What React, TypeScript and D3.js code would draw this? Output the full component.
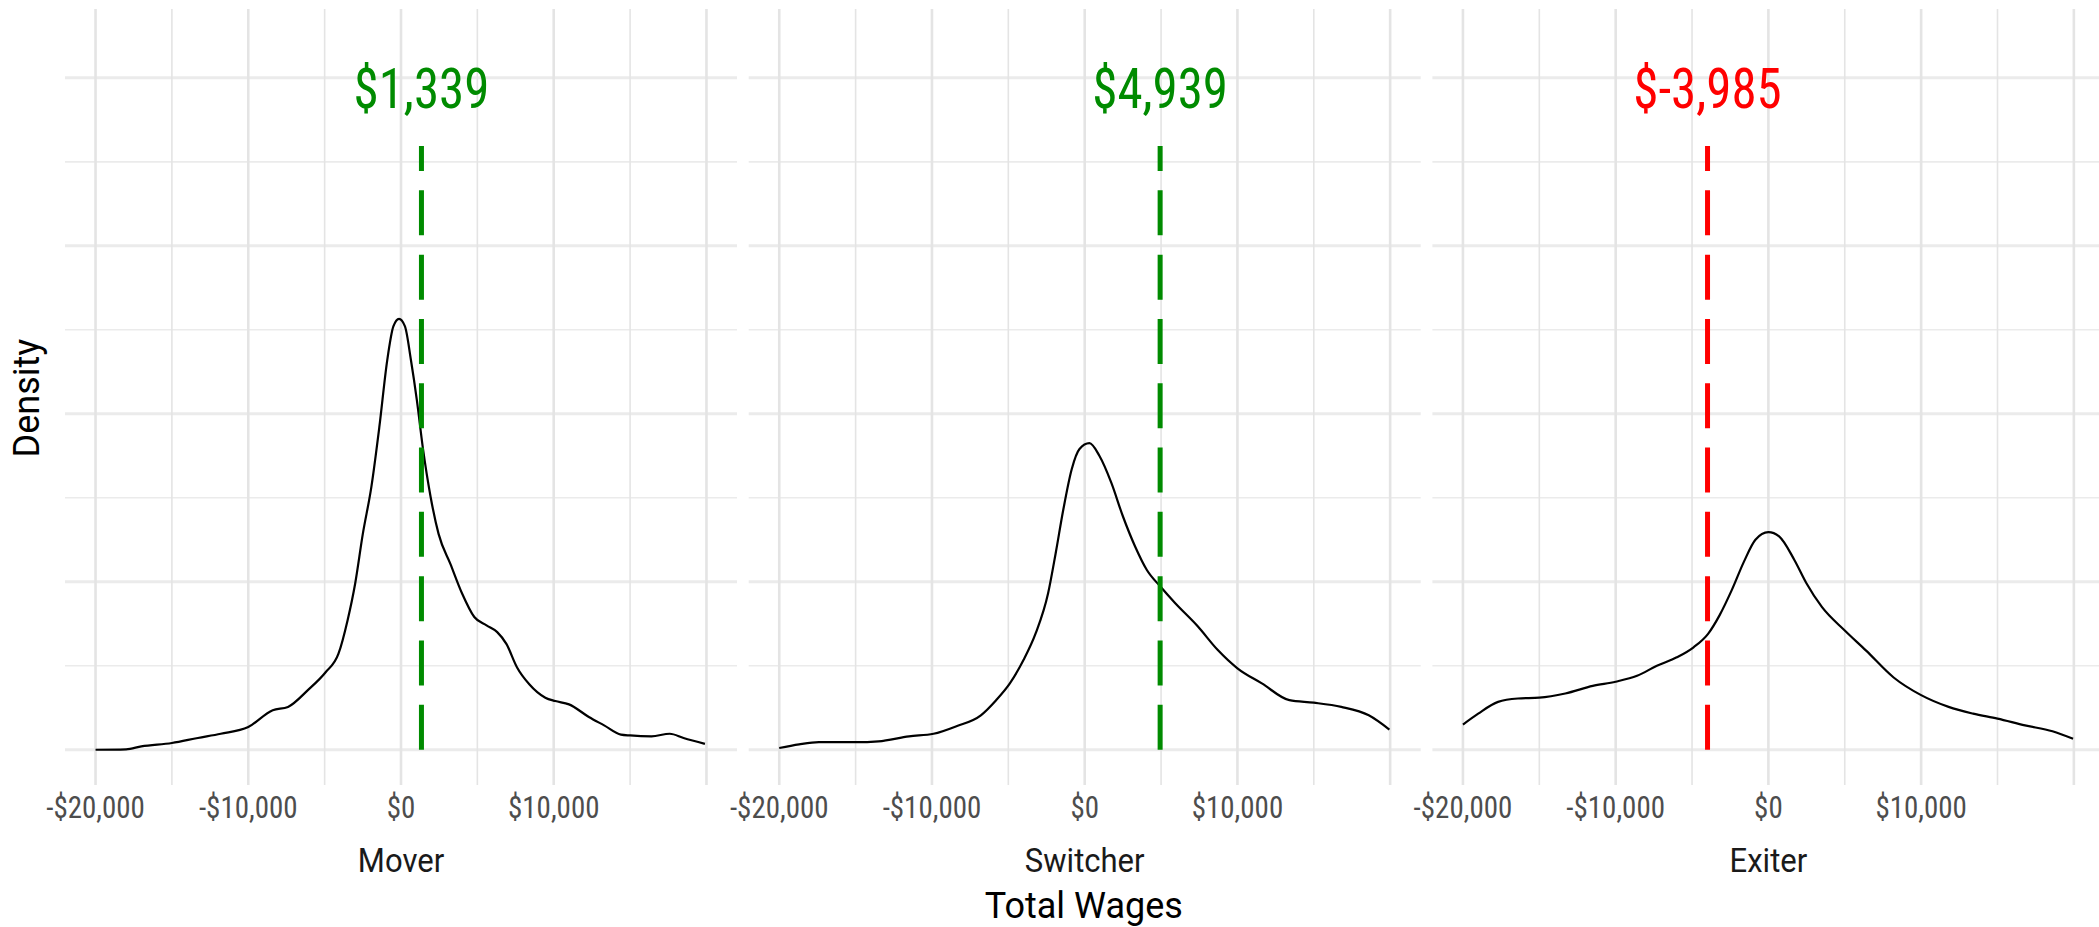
import React from "react";
import * as d3 from "d3";

// facets and their mean change in total wages
const panels = ["Mover", "Switcher", "Exiter"];
const meanWages = [1339, 4939, -3985];
const meanColors = ["#008B00", "#008B00", "#FF0000"];

// axis breaks
const xTicks = [-20000, -10000, 0, 10000];
const xMajor = [-20000, -10000, 0, 10000, 20000];
const xMinor = [-15000, -5000, 5000, 15000];
const yMajor = [0, 2, 4, 6, 8];
const yMinor = [1, 3, 5, 7];

// density curves (y in grid units)
const moverWage = [-20000, -18000, -17000, -15000, -13300, -11800, -10000, -8400, -7400, -6100, -4950, -4100, -3500, -3000, -2500, -1940, -1420, -900, -500, -130, 260, 650, 1040, 1420, 1940, 2460, 3240, 4000, 4800, 5600, 6300, 6900, 7600, 8400, 9450, 10100, 11000, 12300, 13300, 14400, 15000, 16400, 17600, 18500, 19900];
const moverDens = [0, 0.005, 0.04, 0.08, 0.14, 0.19, 0.27, 0.47, 0.51, 0.71, 0.92, 1.14, 1.54, 1.98, 2.57, 3.13, 3.84, 4.64, 5.04, 5.13, 5.04, 4.64, 4.16, 3.61, 3.01, 2.57, 2.21, 1.86, 1.58, 1.48, 1.4, 1.26, 0.98, 0.78, 0.62, 0.58, 0.54, 0.39, 0.29, 0.18, 0.17, 0.16, 0.19, 0.14, 0.07];

const switcherWage = [-20000, -18700, -17400, -15000, -13500, -11500, -9900, -8400, -6800, -5800, -4900, -4000, -3200, -2400, -1900, -1400, -850, -340, 310, 960, 1740, 2500, 3300, 4070, 4970, 5900, 7400, 8700, 10000, 11600, 13400, 15000, 16800, 18600, 19950];
const switcherDens = [0.02, 0.064, 0.09, 0.09, 0.1, 0.16, 0.19, 0.28, 0.41, 0.59, 0.79, 1.07, 1.39, 1.86, 2.34, 2.86, 3.34, 3.58, 3.65, 3.5, 3.18, 2.78, 2.42, 2.14, 1.94, 1.75, 1.47, 1.19, 0.97, 0.79, 0.59, 0.56, 0.51, 0.41, 0.24];

const exiterWage = [-20000, -19000, -17700, -16400, -15000, -13300, -11500, -10000, -8600, -7300, -6000, -4900, -3950, -3200, -2400, -1600, -850, 0, 700, 1700, 2500, 3500, 5000, 6400, 8200, 10000, 11800, 13400, 15000, 16800, 18600, 19950];
const exiterDens = [0.3, 0.43, 0.57, 0.61, 0.62, 0.67, 0.76, 0.81, 0.88, 1.0, 1.1, 1.22, 1.38, 1.6, 1.9, 2.24, 2.5, 2.59, 2.54, 2.26, 1.98, 1.7, 1.42, 1.18, 0.86, 0.65, 0.51, 0.43, 0.37, 0.29, 0.22, 0.13];

const curves = [
  { wage: moverWage, dens: moverDens },
  { wage: switcherWage, dens: switcherDens },
  { wage: exiterWage, dens: exiterDens },
];

const vlineTop = 7.19;
const labelY = 7.64;

const W = 2099;
const H = 927;
const panelLeft = 65;
const panelW = 672;
const panelGap = 11.7;
const panelTop = 9;
const panelBottom = 785;
const COND = "'Roboto Condensed', Roboto, sans-serif";
const REG = "Roboto, sans-serif";

const locale = d3.formatLocale({
  decimal: ".",
  thousands: ",",
  grouping: [3],
  currency: ["$", ""],
  minus: "-",
});
const comma = locale.format(",");
const tickFmt = (v: number) => (v < 0 ? `-$${comma(-v)}` : `$${comma(v)}`);
const meanFmt = (v: number) => `$${comma(v)}`;

const Label = ({ x, y, size, fill, rotate, sx = 1, family = REG, children }: any) => (
  <text
    transform={`translate(${x},${y})${rotate ? ` rotate(${rotate})` : ""} scale(${sx},1)`}
    fontSize={size}
    fill={fill}
    textAnchor="middle"
    fontFamily={family}
  >
    {children}
  </text>
);

const App = () => {
  const y = d3.scaleLinear().domain([-0.42, 8.82]).range([panelBottom, panelTop]);

  return (
    <svg
      width={W}
      height={H}
      style={{ position: "absolute", left: 0, top: 0, display: "block", background: "#fff" }}
    >
      {panels.map((name, i) => {
        const x0 = panelLeft + i * (panelW + panelGap);
        const x = d3.scaleLinear().domain([-22000, 22000]).range([x0, x0 + panelW]);
        const line = d3
          .line<number>()
          .x((_, j) => x(curves[i].wage[j]))
          .y((d) => y(d))
          .curve(d3.curveMonotoneX);

        return (
          <g key={name}>
            {/* grid */}
            {yMinor.map((t) => (
              <line key={"ym" + t} x1={x0} x2={x0 + panelW} y1={y(t)} y2={y(t)} stroke="#EBEBEB" strokeWidth={1.6} />
            ))}
            {yMajor.map((t) => (
              <line key={"yM" + t} x1={x0} x2={x0 + panelW} y1={y(t)} y2={y(t)} stroke="#EBEBEB" strokeWidth={3} />
            ))}
            {xMinor.map((t) => (
              <line key={"xm" + t} x1={x(t)} x2={x(t)} y1={panelTop} y2={panelBottom} stroke="#E4E4E4" strokeWidth={1.6} />
            ))}
            {xMajor.map((t) => (
              <line key={"xM" + t} x1={x(t)} x2={x(t)} y1={panelTop} y2={panelBottom} stroke="#E4E4E4" strokeWidth={2.6} />
            ))}

            {/* density */}
            <path d={line(curves[i].dens) || ""} fill="none" stroke="#000" strokeWidth={2.2} />

            {/* mean line */}
            <line
              x1={x(meanWages[i])}
              x2={x(meanWages[i])}
              y1={y(0)}
              y2={y(vlineTop)}
              stroke={meanColors[i]}
              strokeWidth={5}
              strokeDasharray="45 19.3"
            />
            <Label x={x(meanWages[i])} y={y(labelY)} size={56} sx={0.91} family={COND} fill={meanColors[i]}>
              {meanFmt(meanWages[i])}
            </Label>

            {/* x tick labels */}
            {xTicks.map((t) => (
              <Label key={"tl" + t} x={x(t)} y={818.3} size={30.5} sx={0.95} family={COND} fill="#4D4D4D">
                {tickFmt(t)}
              </Label>
            ))}

            {/* strip label */}
            <Label x={x0 + panelW / 2} y={871.7} size={33} sx={0.94} fill="#1A1A1A">
              {name}
            </Label>
          </g>
        );
      })}

      {/* axis titles */}
      <Label x={1083.8} y={918} size={36} fill="#000">
        Total Wages
      </Label>
      <Label x={39} y={398} size={36} fill="#000" rotate={-90}>
        Density
      </Label>
    </svg>
  );
};

export default App;
